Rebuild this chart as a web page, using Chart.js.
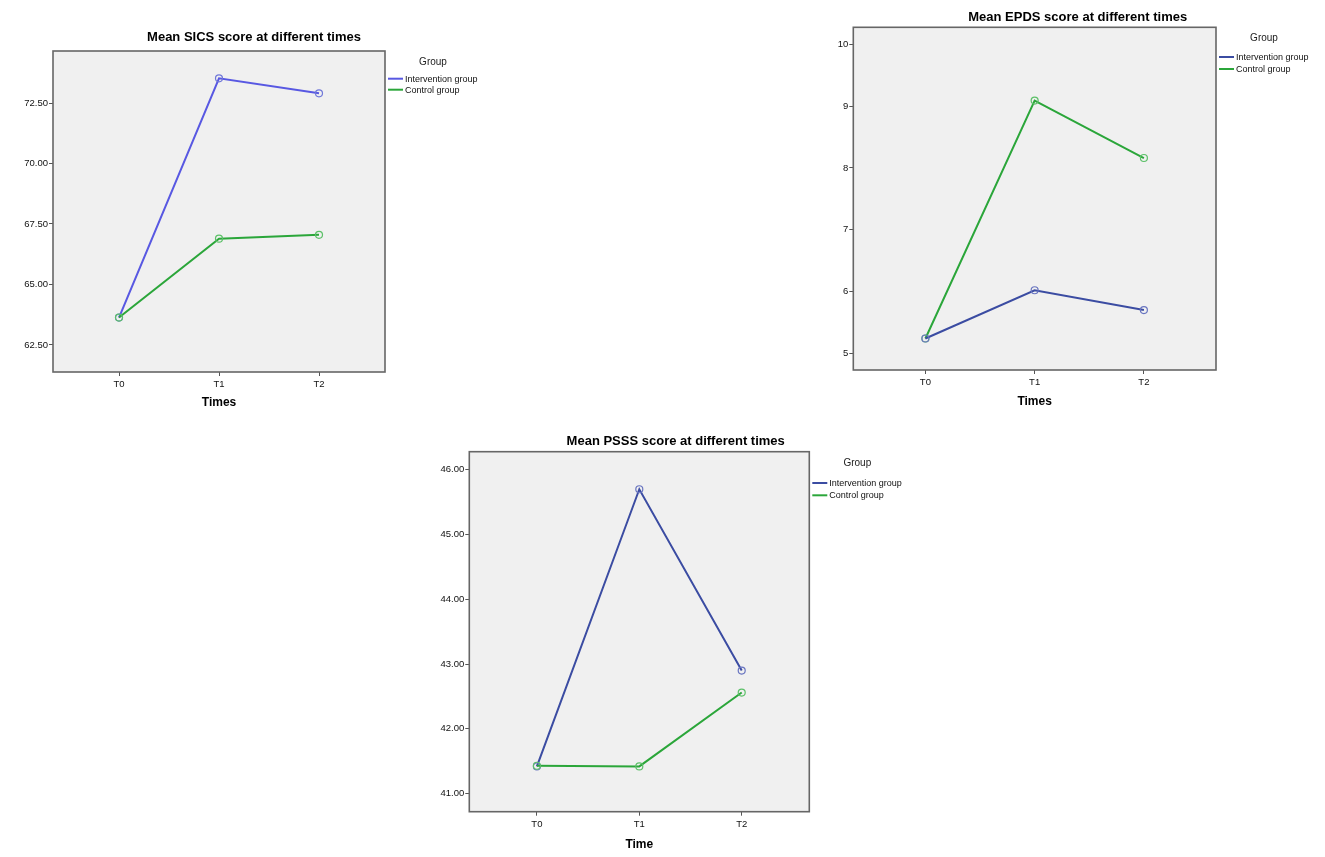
<!DOCTYPE html>
<html>
<head>
<meta charset="utf-8">
<script src="https://cdn.jsdelivr.net/npm/chart.js@4.4.1/dist/chart.umd.min.js"></script>
<style>
  html, body { margin: 0; padding: 0; background: #fff; }
  body { width: 1325px; height: 857px; position: relative; overflow: hidden; }
  .box { position: absolute; }
</style>
</head>
<body>
<div class="box" id="box-sics"><canvas id="sics"></canvas></div>
<div class="box" id="box-epds"><canvas id="epds"></canvas></div>
<div class="box" id="box-psss"><canvas id="psss"></canvas></div>
<script>
const times = ["T0", "T1", "T2"];
const groups = ["Intervention group", "Control group"];

const sicsIntervention = [63.63, 73.52, 72.90];
const sicsControl = [63.63, 66.89, 67.05];
const sicsTicks = [62.5, 65, 67.5, 70, 72.5];

const epdsIntervention = [5.24, 6.02, 5.70];
const epdsControl = [5.24, 9.09, 8.16];
const epdsTicks = [5, 6, 7, 8, 9, 10];

const psssIntervention = [41.42, 45.70, 42.90];
const psssControl = [41.43, 41.42, 42.56];
const psssTicks = [41, 42, 43, 44, 45, 46];

const FONT = "'Liberation Sans', Arial, sans-serif";

// plot box, title and "Group" legend drawn the SPSS way
const spssFrame = {
    id: "spssFrame",
    beforeDraw(chart) {
        const { ctx, chartArea: a } = chart;
        ctx.save();
        ctx.fillStyle = "#f0f0f0";
        ctx.fillRect(a.left, a.top, a.width, a.height);
        ctx.restore();
    },
    afterDraw(chart, args, opts) {
        const { ctx, chartArea: a } = chart;
        ctx.save();
        ctx.strokeStyle = "#666";
        ctx.lineWidth = 1.6;
        ctx.strokeRect(a.left, a.top, a.width, a.height);

        ctx.fillStyle = "#000";
        ctx.font = "bold 13px " + FONT;
        ctx.textAlign = "center";
        ctx.textBaseline = "middle";
        ctx.fillText(opts.title, a.left + opts.titleDX, a.top + opts.titleDY);

        ctx.fillStyle = "#222";
        ctx.font = "10px " + FONT;
        ctx.fillText("Group", a.right + 48, a.top + opts.groupDY);

        ctx.fillStyle = "#111";
        ctx.font = "9px " + FONT;
        ctx.textAlign = "left";
        chart.data.datasets.forEach((ds, i) => {
            const y = a.top + opts.itemDY + i * opts.itemGap;
            ctx.strokeStyle = ds.borderColor;
            ctx.lineWidth = 2;
            ctx.beginPath();
            ctx.moveTo(a.right + 3, y);
            ctx.lineTo(a.right + 18, y);
            ctx.stroke();
            ctx.fillText(ds.label, a.right + 20, y + 0.5);
        });
        ctx.restore();
    },
};

function makeChart(id, L, series, colors, yTicks, fmt, yMin, yMax, xTitle) {
    const box = document.getElementById("box-" + id);
    box.style.left = L.box[0] + "px";
    box.style.top = L.box[1] + "px";
    box.style.width = L.box[2] + "px";
    box.style.height = L.box[3] + "px";

    const datasets = series.map((vals, i) => ({
        label: groups[i],
        data: vals.map((v, k) => ({ x: k, y: v })),
        borderColor: colors[i].line,
        pointBorderColor: colors[i].point,
        pointBackgroundColor: "rgba(0,0,0,0)",
        pointRadius: 3.5,
        pointBorderWidth: 1.2,
        borderWidth: 2,
        tension: 0,
        order: L.order[i],
    }));

    return new Chart(document.getElementById(id), {
        type: "line",
        data: { datasets },
        plugins: [spssFrame],
        options: {
            responsive: true,
            maintainAspectRatio: false,
            animation: false,
            layout: { padding: L.pad },
            plugins: {
                legend: { display: false },
                title: { display: false },
                tooltip: { enabled: false },
                spssFrame: {
                    title: L.title,
                    titleDX: L.titleDX,
                    titleDY: L.titleDY,
                    groupDY: L.groupDY,
                    itemDY: L.itemDY,
                    itemGap: L.itemGap,
                },
            },
            scales: {
                x: {
                    type: "linear",
                    min: -0.66,
                    max: 2.66,
                    afterBuildTicks: (s) => { s.ticks = times.map((t, i) => ({ value: i })); },
                    afterFit: (s) => { s.height = 45; },
                    ticks: {
                        callback: (v) => times[v],
                        font: { size: 9.5, family: FONT },
                        color: "#111",
                        padding: 3,
                        maxRotation: 0,
                        autoSkip: false,
                    },
                    grid: { drawOnChartArea: false, drawTicks: true, tickLength: 4, color: "#555" },
                    border: { display: false },
                    title: {
                        display: true,
                        text: xTitle,
                        color: "#000",
                        font: { size: 12, weight: "bold", family: FONT },
                        padding: { top: 0, bottom: L.xTitlePad },
                    },
                },
                y: {
                    min: yMin,
                    max: yMax,
                    afterBuildTicks: (s) => { s.ticks = yTicks.map((v) => ({ value: v })); },
                    afterFit: (s) => { s.width = 45; },
                    ticks: {
                        callback: (v) => fmt(v),
                        font: { size: 9.5, family: FONT },
                        color: "#111",
                        padding: 1,
                        autoSkip: false,
                    },
                    grid: { drawOnChartArea: false, drawTicks: true, tickLength: 4, color: "#555" },
                    border: { display: false },
                },
            },
        },
    });
}

const lightBlue = { line: "#5858e2", point: "#7078d8" };
const darkBlue = { line: "#3b4ca2", point: "#6874c0" };
const green = { line: "#2ba63a", point: "#5cc068" };

makeChart("sics", {
    box: [0, 20, 500, 400],
    pad: { left: 8, top: 31, right: 115, bottom: 3 },
    title: "Mean SICS score at different times",
    titleDX: 201, titleDY: -14,
    groupDY: 11, itemDY: 27.7, itemGap: 11,
    xTitlePad: 7,
    order: [1, 0],
}, [sicsIntervention, sicsControl], [lightBlue, green], sicsTicks,
   (v) => v.toFixed(2), 61.38, 74.65, "Times");

makeChart("epds", {
    box: [800, 0, 525, 420],
    pad: { left: 8.3, top: 27.3, right: 109, bottom: 5 },
    title: "Mean EPDS score at different times",
    titleDX: 224.4, titleDY: -10,
    groupDY: 11.4, itemDY: 29.7, itemGap: 12,
    xTitlePad: 6,
    order: [0, 1],
}, [epdsIntervention, epdsControl], [darkBlue, green], epdsTicks,
   (v) => String(v), 4.73, 10.275, "Times");

makeChart("psss", {
    box: [420, 424, 510, 433],
    pad: { left: 4.3, top: 27.7, right: 120.7, bottom: 0.3 },
    title: "Mean PSSS score at different times",
    titleDX: 206.4, titleDY: -10.4,
    groupDY: 12, itemDY: 31.3, itemGap: 12.3,
    xTitlePad: 4.5,
    order: [1, 0],
}, [psssIntervention, psssControl], [darkBlue, green], psssTicks,
   (v) => v.toFixed(2), 40.72, 46.28, "Time");
</script>
</body>
</html>
